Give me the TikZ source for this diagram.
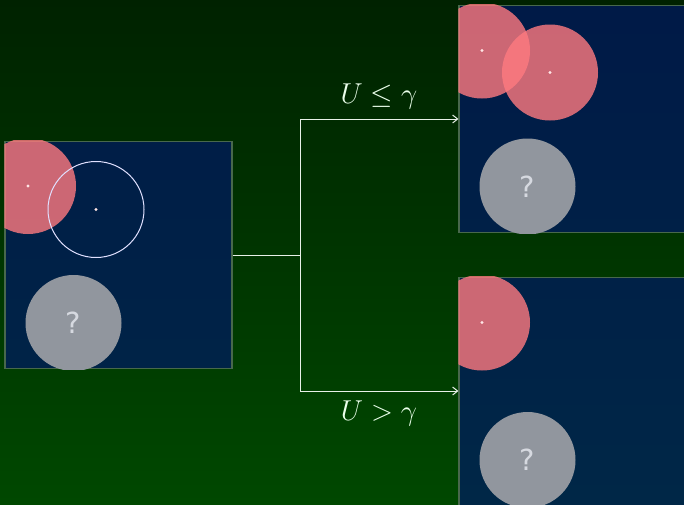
\documentclass[tikz,border=0pt]{standalone}
\usepackage{fontspec}
\newfontfamily\qfont{DejaVu Sans}
\definecolor{bgtop}{RGB}{0,34,0}
\definecolor{bgbot}{RGB}{0,72,0}
\definecolor{panelblue}{RGB}{0,22,110}
\definecolor{panelline}{RGB}{72,104,76}
\definecolor{hitred}{RGB}{255,122,128}
\definecolor{qgray}{RGB}{145,150,158}
\definecolor{qtext}{RGB}{214,217,224}
\definecolor{linkc}{RGB}{232,240,232}
\usetikzlibrary{arrows.meta,positioning}

\begin{document}
\begin{tikzpicture}[x=0.5pt, y=-0.5pt,
        panel/.style={rectangle, draw=panelline, fill=panelblue, fill opacity=0.65,
                      line width=0.6pt, minimum size=113.5pt, inner sep=0pt},
        hit/.style={circle, fill=hitred, fill opacity=0.8, minimum size=48pt, inner sep=0pt},
        ring/.style={circle, draw=white!88!blue, line width=0.5pt, minimum size=48pt, inner sep=0pt},
        query/.style={circle, fill=qgray, minimum size=48pt, inner sep=0pt,
                      text=qtext, font=\qfont\fontsize{14.5}{16}\selectfont},
        dot/.style={fill=white!90!red},
        link/.style={linkc, line width=0.5pt},
        arr/.style={link, -{Straight Barb[length=2.5pt, width=4pt]}},
        cond/.style={text=white!92!green, font=\fontsize{14}{17}\selectfont}
      ]
        \useasboundingbox (0,0) rectangle (684,504);
        \shade[top color=bgtop, bottom color=bgbot] (0,0) rectangle (684,504);

        % panels
        \node[panel] (cur) at (118.5,255) {};
        \node[panel] (acc) at (572.5,119) {};
        \node[panel, minimum height=120pt] (rej) at (572.5,397.5) {};

        % current state
        \begin{scope}
          \clip (cur.south west) rectangle (cur.north east);
          \node[hit]   (c1) at (28,186) {};
          \node[ring]  (c2) at (96,209.5) {};
          \node[query] (cq) at (73.5,323) {?};
          \fill[dot] (c1) circle (0.8pt);
          \fill[dot] (c2) circle (0.8pt);
        \end{scope}

        % accepted
        \begin{scope}
          \clip (acc.south west) rectangle (acc.north east);
          \node[hit]   (a1) at (482,50.5) {};
          \node[hit]   (a2) at (550,72.5) {};
          \node[query] (aq) at (527.5,186.5) {?};
          \fill[dot] (a1) circle (0.8pt);
          \fill[dot] (a2) circle (0.8pt);
        \end{scope}

        % rejected
        \begin{scope}
          \clip (rej.south west) rectangle (rej.north east);
          \node[hit]   (r1) at (482,322.5) {};
          \node[query] (rq) at (527.5,460) {?};
          \fill[dot] (r1) circle (0.8pt);
        \end{scope}

        \draw[link] (cur.east) -- (300,255) coordinate (split);
        \draw[arr] (split) |- (acc.west);
        \draw[arr] (split) |- ([yshift=3.25pt]rej.west);

        \node[cond] (lacc) at (379,96) {$U \le \gamma$};
        \node[cond] (lrej) at (379,413) {$U > \gamma$};
      \end{tikzpicture}
\end{document}
